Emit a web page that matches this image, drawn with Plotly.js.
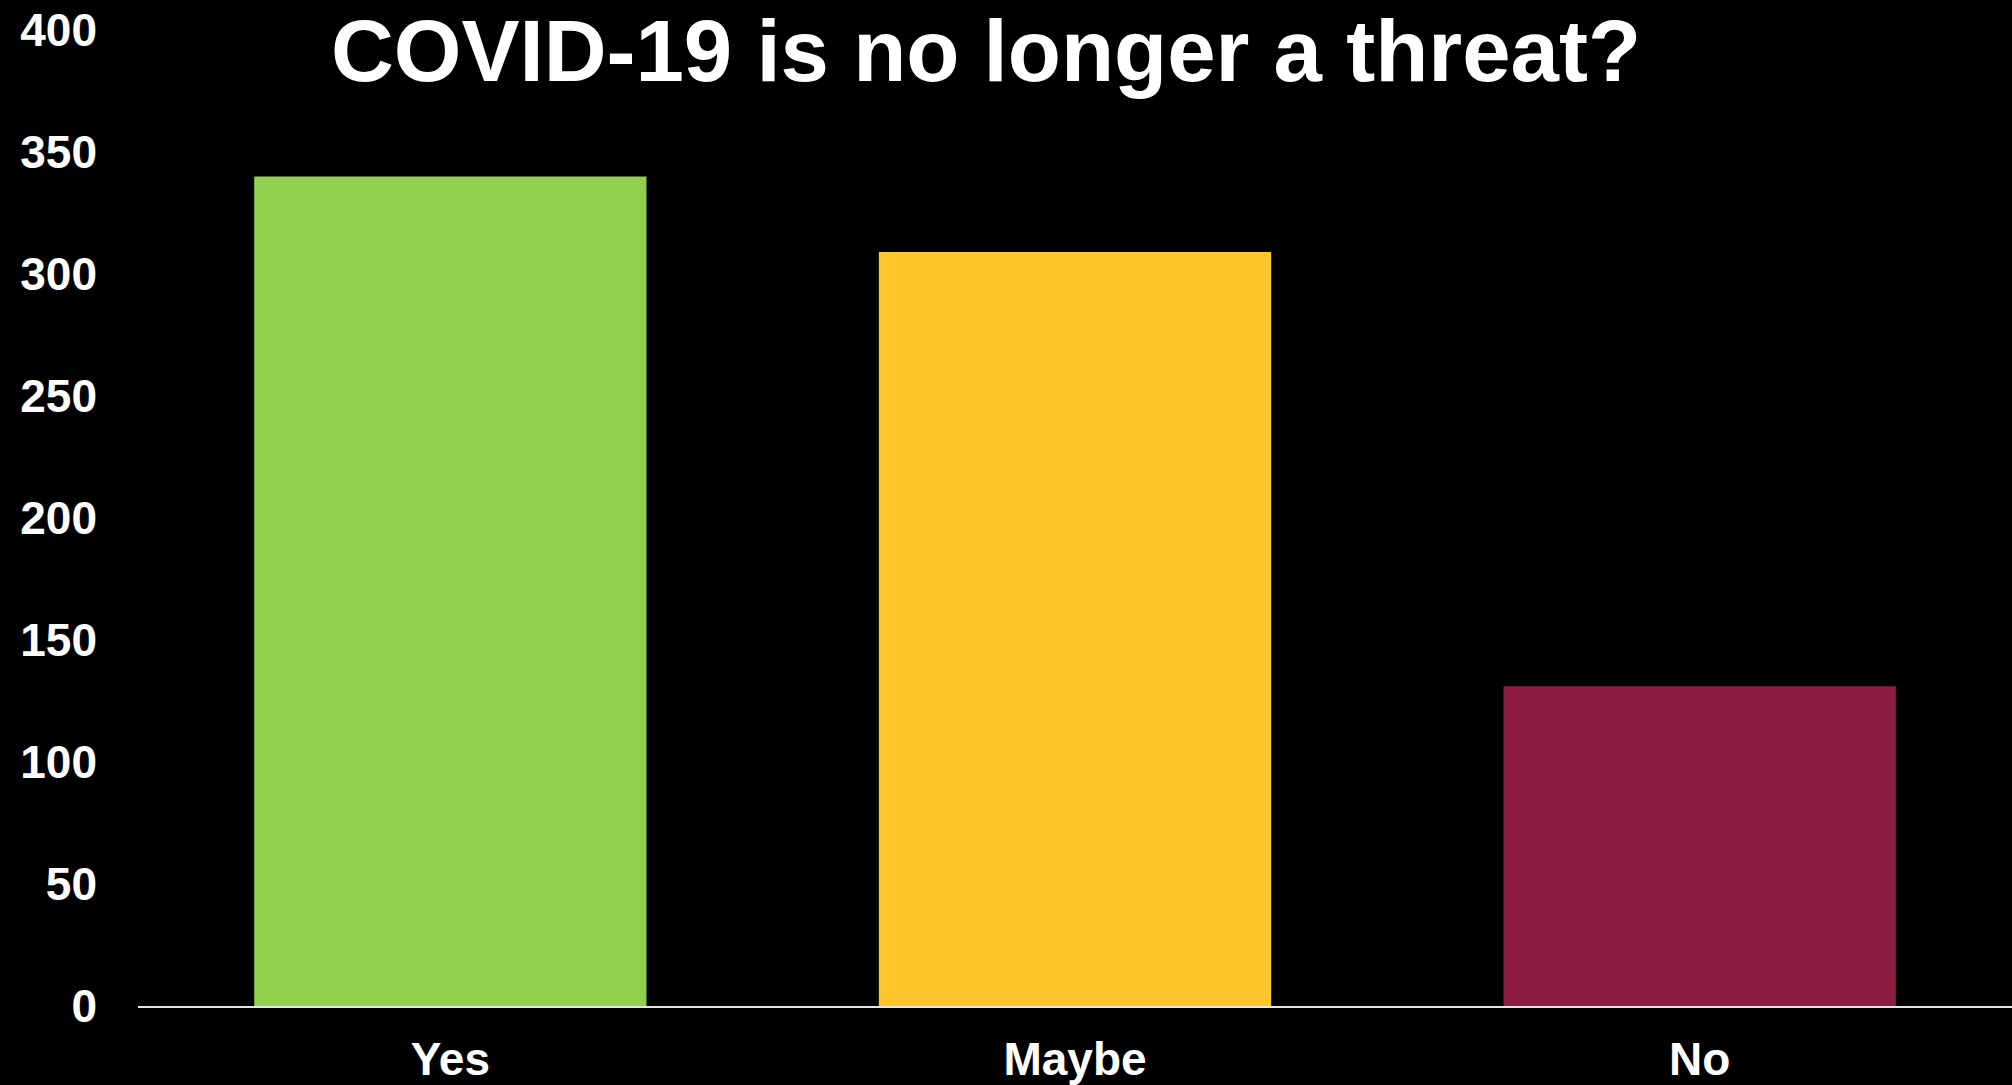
<!DOCTYPE html>
<html>
<head>
<meta charset="utf-8">
<script src="https://cdn.plot.ly/plotly-3.0.1.min.js"></script>
<style>
html,body{margin:0;padding:0;background:#000;}
#chart{width:2012px;height:1085px;}
</style>
</head>
<body>
<div id="chart"></div>
<script>
const categories = ["Yes", "Maybe", "No"];
const counts = [340, 309, 131];
const barColors = ["#92D050", "#FFC52A", "#8C1D40"];
const yTicks = [0, 50, 100, 150, 200, 250, 300, 350, 400];
const chartTitle = "COVID-19 is no longer a threat?";

const fontFam = "Liberation Sans, Arial, sans-serif";

Plotly.newPlot("chart", [{
  type: "bar",
  x: categories,
  y: counts,
  marker: {color: barColors, line: {width: 0}},
  hoverinfo: "x+y"
}], {
  width: 2012,
  height: 1085,
  paper_bgcolor: "#000000",
  plot_bgcolor: "#000000",
  margin: {l: 138, r: 0, t: 30, b: 79, pad: 0},
  bargap: 0.372,
  showlegend: false,
  title: {
    text: chartTitle,
    font: {family: fontFam, size: 87, color: "#ffffff", weight: "bold"},
    x: 986 / 2012,
    xanchor: "center",
    xref: "container",
    yref: "container",
    y: 1 - 51 / 1085,
    yanchor: "middle"
  },
  xaxis: {
    type: "category",
    range: [-0.5, 2.5],
    showgrid: false,
    zeroline: false,
    showline: true,
    linecolor: "#e6e6e6",
    linewidth: 2,
    ticks: "",
    ticklabelstandoff: 12,
    tickfont: {family: fontFam, size: 46, color: "#ffffff", weight: "bold"},
    fixedrange: true
  },
  yaxis: {
    range: [0, 400],
    tickvals: yTicks,
    ticktext: yTicks.map(String),
    showgrid: false,
    zeroline: false,
    showline: false,
    ticks: "",
    ticklabelstandoff: 40,
    tickfont: {family: fontFam, size: 46, color: "#ffffff", weight: "bold"},
    fixedrange: true
  }
}, {displayModeBar: false, staticPlot: true});
</script>
</body>
</html>
